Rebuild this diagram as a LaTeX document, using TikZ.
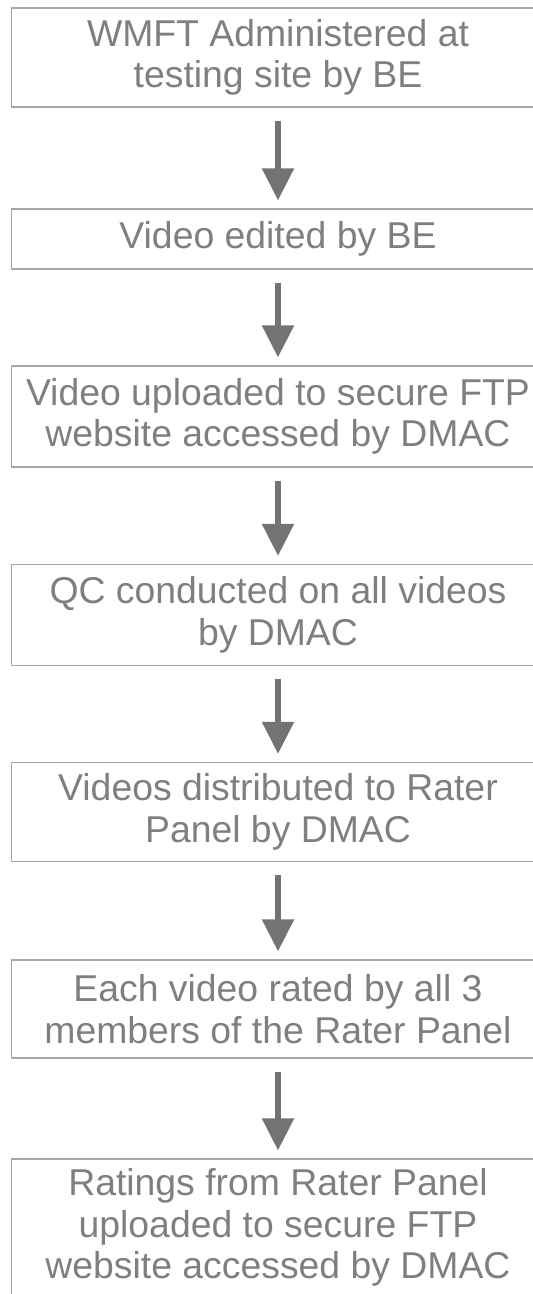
\documentclass[tikz,border=0pt]{standalone}
\usepackage{fontspec}
\setmainfont{Liberation Sans}
\usetikzlibrary{arrows.meta}
\definecolor{boxline}{HTML}{A6A6A6}
\definecolor{boxtext}{HTML}{7F7F7F}
\definecolor{arrowgray}{HTML}{737373}
\begin{document}
\begin{tikzpicture}[x=1bp,y=-1bp,
  every node/.style={rectangle,draw=boxline,line width=1.3bp,text=boxtext,
    align=center,inner sep=0pt,minimum width=533.5bp,
    font=\fontsize{37.5}{41.5}\selectfont},
  flowarrow/.style={draw=arrowgray,line width=5.3bp,
    -{Triangle[width=31bp,length=32bp,fill=arrowgray]},
    shorten <=13bp,shorten >=8bp}]
\useasboundingbox (0,0) rectangle (533,1294);
\clip (0,0) rectangle (533,1294);
\node[minimum height=99bp] (s1) at (278,57.5) {WMFT Administered at\\testing site by BE};
\node[minimum height=60bp] (s2) at (278,239) {Video edited by BE};
\node[minimum height=101bp] (s3) at (278,416.5) {Video uploaded to secure FTP\\website accessed by DMAC};
\node[minimum height=101bp] (s4) at (278,615) {QC conducted on all videos\\by DMAC};
\node[minimum height=99bp] (s5) at (278,812) {Videos distributed to Rater\\Panel by DMAC};
\node[minimum height=98bp] (s6) at (278,1009) {Each video rated by all 3\\members of the Rater Panel};
\node[minimum height=137bp] (s7) at (278,1227.5) {Ratings from Rater Panel\\uploaded to secure FTP\\website accessed by DMAC};
\foreach \a/\b in {s1/s2,s2/s3,s3/s4,s4/s5,s5/s6,s6/s7} {
  \draw[flowarrow] (\a) -- (\b);
}
\end{tikzpicture}
\end{document}
